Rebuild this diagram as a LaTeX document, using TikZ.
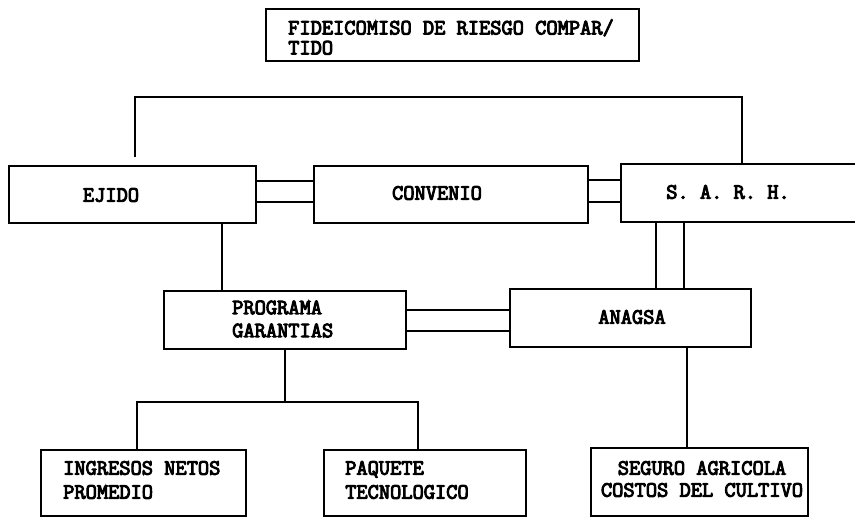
\documentclass[tikz,border=0pt]{standalone}
\usepackage{fontspec}
\newfontfamily\twfont{Latin Modern Mono}[FakeBold=4.5]
\usetikzlibrary{calc}
\tikzset{
  box/.style={draw, line width=1.6pt, rectangle, inner sep=0pt, anchor=north west},
  lbl/.style={font=\twfont\fontsize{21.8}{24}\selectfont, inner sep=0pt, align=left},
  conn/.style={line width=1.6pt},
}
\newcommand\mkbox[5]{\node[box, minimum width={(#4-#2)*1pt}, minimum height={(#5-#3)*1pt}] (#1) at (#2,#3) {};}
\begin{document}
\begin{tikzpicture}[x=1pt,y=-1pt]
\useasboundingbox[fill=white] (0,0) rectangle (855,517);
% boxes
\mkbox{fid}{265}{8}{638}{60}
\mkbox{ejido}{8}{165}{255}{222}
\mkbox{convenio}{313}{165}{587}{222}
\mkbox{sarh}{620}{163}{880}{221}
\mkbox{programa}{163}{290}{405}{348}
\mkbox{anagsa}{509}{288}{750}{346}
\mkbox{ingresos}{40}{449}{245}{515}
\mkbox{paquete}{323}{449}{525}{515}
\mkbox{seguro}{590}{447}{807}{515}
% labels
\node[lbl, anchor=west, font=\twfont\fontsize{21.8}{20}\selectfont] (fidt) at (288,37) {FIDEICOMISO DE RIESGO COMPAR/\\TIDO};
\node[lbl] (ejidot) at (111,195) {EJIDO};
\node[lbl] (conveniot) at (437,193) {CONVENIO};
\node[lbl] (sarht) at (728,192) {S. A. R. H.};
\node[lbl, anchor=west, font=\twfont\fontsize{21.8}{23}\selectfont] (programat) at (232,319) {PROGRAMA\\GARANTIAS};
\node[lbl] (anagsat) at (632,317) {ANAGSA};
\node[lbl, anchor=west] (ingresost) at (63,480) {INGRESOS NETOS\\PROMEDIO};
\node[lbl, anchor=west] (paquetet) at (345,480) {PAQUETE\\TECNOLOGICO};
\node[lbl, align=center, font=\twfont\fontsize{21.8}{22}\selectfont] (segurot) at (702,479) {SEGURO AGRICOLA\\COSTOS DEL CULTIVO};
% connectors
\coordinate (topl) at (135,97);
\coordinate (topr) at (742,97);
\draw[conn] ($(ejido.north west)+(127,-8)$) -- (topl) -- (topr) -- ($(sarh.north west)+(122,0)$);
\draw[conn] ($(ejido.north east)+(0,16)$) -- ($(convenio.north west)+(0,16)$);
\draw[conn] ($(ejido.north east)+(0,37)$) -- ($(convenio.north west)+(0,37)$);
\draw[conn] ($(convenio.north east)+(0,15)$) -- ($(sarh.north west)+(0,17)$);
\draw[conn] ($(convenio.north east)+(0,37)$) -- ($(sarh.north west)+(0,39)$);
\draw[conn] ($(sarh.south west)+(36,0)$) -- ($(anagsa.north west)+(147,0)$);
\draw[conn] ($(sarh.south west)+(64,0)$) -- ($(anagsa.north west)+(175,0)$);
\draw[conn] ($(programa.north east)+(0,20)$) -- ($(anagsa.north west)+(0,22)$);
\draw[conn] ($(programa.north east)+(0,41)$) -- ($(anagsa.north west)+(0,43)$);
\draw[conn] ($(ejido.south west)+(214,0)$) -- ($(programa.north west)+(59,0)$);
\coordinate (brl) at (137,402);
\coordinate (brr) at (418,402);
\coordinate (brm) at (285,402);
\draw[conn] ($(programa.south west)+(122,0)$) -- (brm);
\draw[conn] ($(ingresos.north west)+(97,0)$) -- (brl) -- (brr) -- ($(paquete.north west)+(95,0)$);
\draw[conn] ($(anagsa.south west)+(178,0)$) -- ($(seguro.north west)+(97,0)$);
\end{tikzpicture}
\end{document}
